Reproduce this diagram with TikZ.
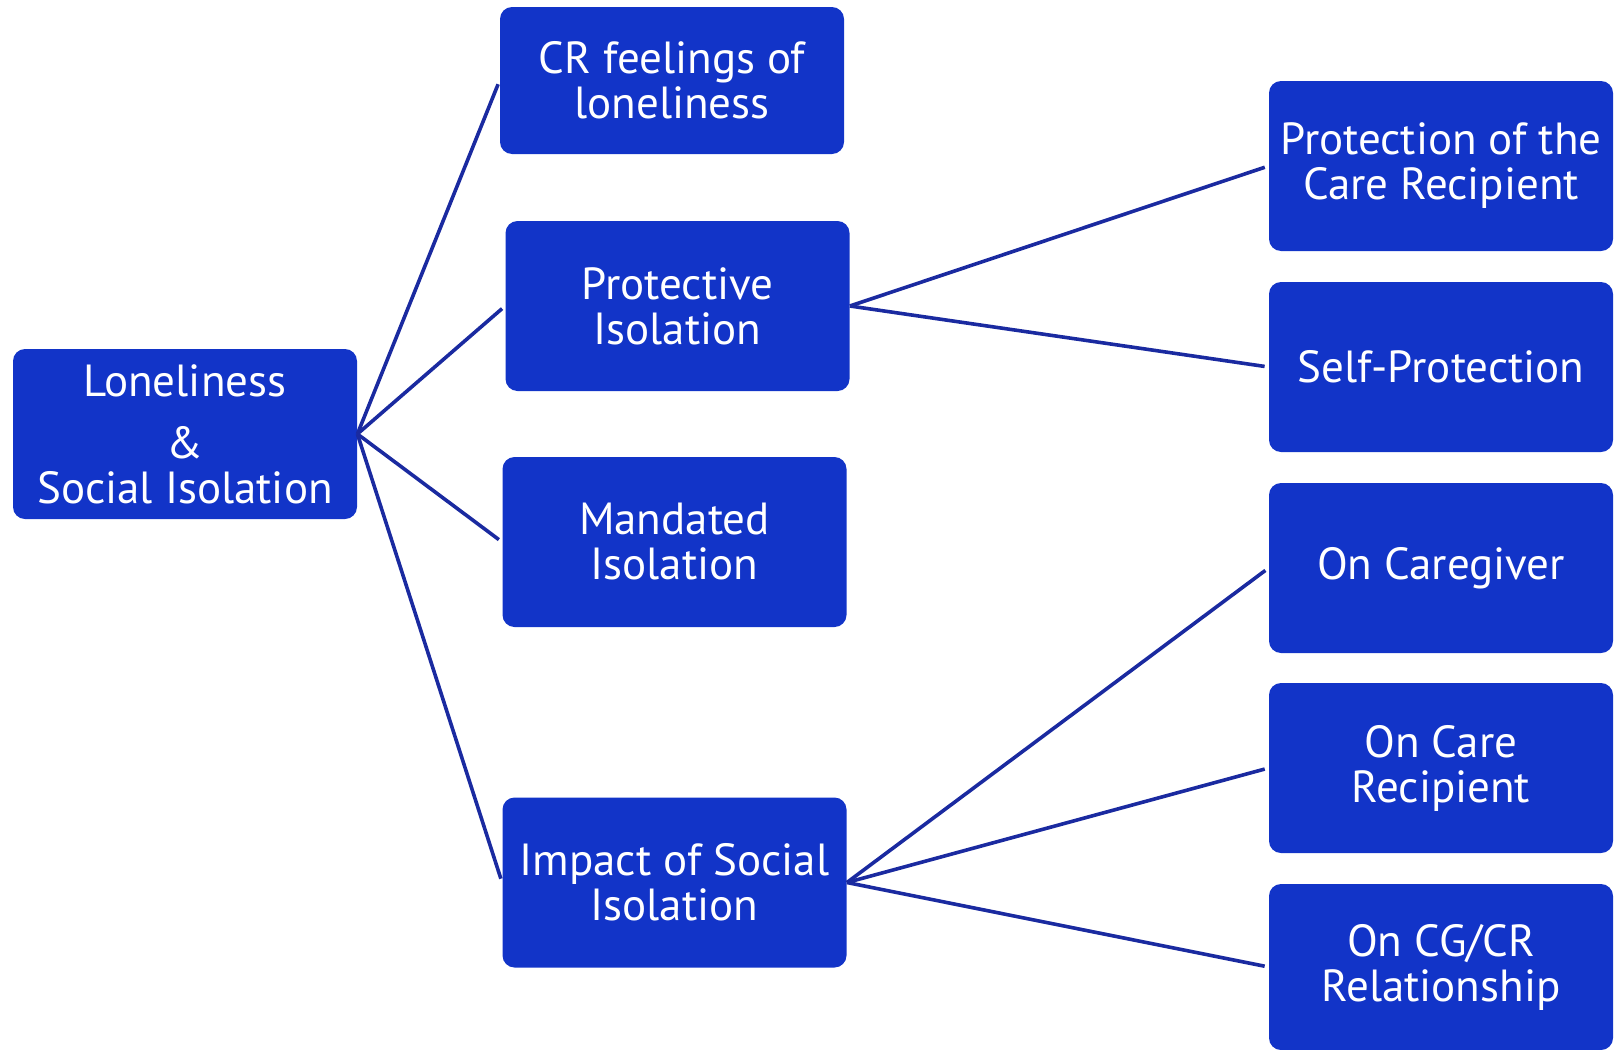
\documentclass[tikz,border=0pt]{standalone}
\usepackage{fontspec}
\setmainfont{PT Sans}
\definecolor{boxfill}{HTML}{1234C8}
\definecolor{linecol}{HTML}{1A2AA0}
\begin{document}
\begin{tikzpicture}[x=0.5pt,y=-0.5pt,
  box/.style={draw=none, fill=boxfill, rounded corners=6pt, text=white, align=center,
    inner sep=0pt, font=\fontsize{22.5}{22.5}\selectfont, minimum width=172pt, minimum height=85pt},
  link/.style={draw=linecol, line width=1.8pt, shorten >=2pt}]
\useasboundingbox (0,0) rectangle (1614,1050);
\node[box] (root) at (185,434) {Loneliness\\[8.5pt]\&\\Social Isolation};
\node[box, minimum height=73.5pt] (cr) at (672,80.5) {CR feelings of\\loneliness};
\node[box] (prot) at (677.5,306) {Protective\\Isolation};
\node[box] (mand) at (674.5,542) {Mandated\\Isolation};
\node[box] (imp) at (674.5,882.5) {Impact of Social\\Isolation};
\node[box] (pcr) at (1441,166) {Protection of the\\Care Recipient};
\node[box] (self) at (1441,367) {Self-Protection};
\node[box] (cg) at (1441,568) {On Caregiver};
\node[box] (ocr) at (1441,768) {On Care\\Recipient};
\node[box, minimum height=83pt] (rel) at (1441,967) {On CG/CR\\Relationship};
\draw[link] (root.east) -- (cr.west);
\draw[link] (root.east) -- (prot.west);
\draw[link] (root.east) -- (mand.west);
\draw[link] (root.east) -- (imp.west);
\draw[link] (prot.east) -- (pcr.west);
\draw[link] (prot.east) -- (self.west);
\draw[link] (imp.east) -- (cg.west);
\draw[link] (imp.east) -- (ocr.west);
\draw[link] (imp.east) -- (rel.west);
\end{tikzpicture}
\end{document}
